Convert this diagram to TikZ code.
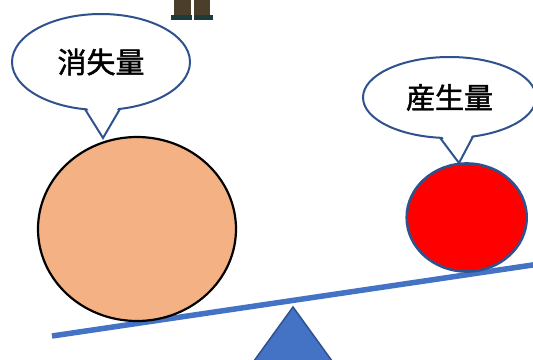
\documentclass[tikz,border=0pt]{standalone}
\usepackage{fontspec}
\newfontfamily\cjk[FakeBold=1.6]{Noto Sans CJK JP}
\usetikzlibrary{shapes.geometric}
\definecolor{outlineblue}{HTML}{2F528F}
\definecolor{leverblue}{HTML}{4472C4}
\definecolor{peach}{HTML}{F4B183}
\definecolor{trouser}{HTML}{4B3F2C}
\definecolor{shoe}{HTML}{1E3B3B}
\tikzset{
  bubble/.style={ellipse, draw=outlineblue, line width=2pt, fill=white, inner sep=0pt,
    font=\cjk\fontsize{29}{29}\selectfont},
  tail/.style={draw=outlineblue, line width=2pt, line join=miter},
  ball/.style={ellipse, inner sep=0pt},
}
\begin{document}
\begin{tikzpicture}[x=1pt,y=-1pt]
\useasboundingbox (0,0) rectangle (533,359);
\clip (0,0) rectangle (533,359);
\fill[white] (0,0) rectangle (533,359);

% figure standing at the top (only legs visible)
\fill[trouser] (174,-2) rectangle (191,16);
\fill[trouser] (194,-2) rectangle (210,16);
\fill[shoe] (171,15) rectangle (192,20);
\fill[shoe] (194,15) rectangle (213,20);

% fulcrum and lever
\draw[fill=leverblue, draw=outlineblue, line width=1.5pt, line join=miter]
  (293,307) -- (233,390) -- (353,390) -- cycle;
\coordinate (lL) at (52,336);
\coordinate (lR) at (536,264.5);
\draw[leverblue, line width=5.5pt] (lL) -- (lR);

% weights
\node[ball, draw=black, line width=2.2pt, fill=peach, minimum width=198, minimum height=184] (big) at (137,229) {};
\node[ball, draw=outlineblue, line width=2.6pt, fill=red, minimum width=120, minimum height=108] (small) at (466.7,217.5) {};

% speech bubbles
\node[bubble, minimum width=178, minimum height=96] (lb) at (101,62) {消失量};
\fill[white] (85,104) -- (103,138) -- (120,104) -- cycle;
\draw[tail] (85,109.2) -- (103,138) -- (120,108.9);

\node[bubble, minimum width=173, minimum height=81] (rb) at (449.5,97.5) {産生量};
\fill[white] (440,133) -- (459,163) -- (473,133) -- cycle;
\draw[tail] (440,137.7) -- (459,163) -- (473,136.5);
\end{tikzpicture}
\end{document}
